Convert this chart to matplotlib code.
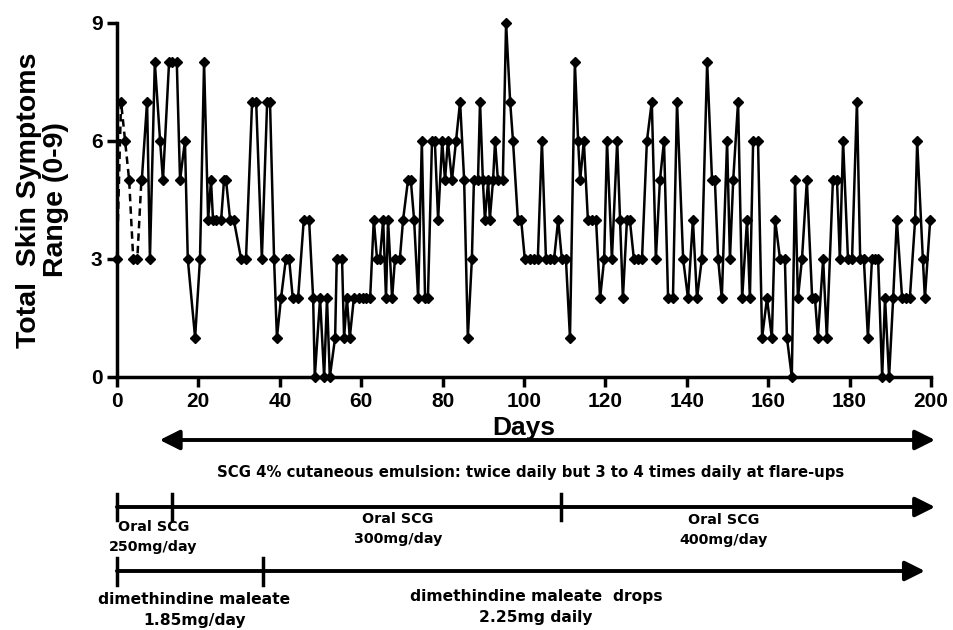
import numpy as np
import matplotlib
matplotlib.use("Agg")
import matplotlib.pyplot as plt
import matplotlib.transforms as mtransforms

plt.rcParams['font.family'] = ['Liberation Sans', 'DejaVu Sans']

# run-in period (dashed)
days_pre = [0, 1, 2, 3, 4, 5, 6]
score_pre = [3, 7, 6, 5, 3, 3, 5]

days = [6.1, 7.4, 8.1, 9.3, 10.6, 11.3, 12.8, 13.5, 14.7, 15.5, 16.7, 17.4, 19.2, 20.4,
        21.4, 22.4, 23.1, 23.6, 24.3, 25.6, 26.3, 26.8, 27.8, 28.7, 30.5, 31.7,
        33.2, 34.2, 35.6, 36.9, 37.6, 38.6, 39.3, 40.3, 41.5, 42.3, 43.2, 44.5, 45.9,
        47.2, 48.2, 48.6, 49.9, 50.9, 51.6, 52.3, 53.6, 54.0, 55.3, 55.8, 56.5, 57.2,
        58.2, 59.5, 60.4, 61.2, 62.2, 63.1, 63.9, 64.6, 65.4, 66.1, 66.6, 67.6, 68.3,
        69.5, 70.3, 71.5, 72.2, 73.0, 74.0, 74.9, 75.7, 76.4, 77.4, 78.1, 78.9, 79.9,
        80.6, 81.3, 82.3, 83.3, 84.3, 85.3, 86.2, 87.2, 87.7, 88.7, 89.2, 89.9, 90.4,
        91.2, 91.6, 92.4, 92.9, 93.6, 94.8, 95.6, 96.6, 97.3, 98.5, 99.3, 100.2, 101.5,
        102.5, 103.4, 104.4, 105.4, 106.4, 107.4, 108.4, 109.3, 110.3, 111.3, 112.5,
        113.3, 113.8, 114.7, 115.7, 116.7, 117.7, 118.7, 119.7, 120.4, 121.6, 122.9,
        123.6, 124.3, 125.3, 126.0, 127.0, 128.0, 129.0, 130.2, 131.4, 132.4, 133.4,
        134.4, 135.4, 136.6, 137.6, 139.1, 140.3, 141.5, 142.5, 143.7, 145.0, 146.2,
        146.9, 147.7, 148.6, 149.9, 150.6, 151.4, 152.6, 153.6, 154.8, 155.5, 156.3,
        157.5, 158.5, 159.7, 160.9, 161.7, 162.9, 164.1, 164.6, 165.8, 166.6, 167.3,
        168.3, 169.5, 170.8, 171.5, 172.2, 173.5, 174.4, 175.9, 176.9, 177.6, 178.4,
        179.6, 180.6, 181.8, 182.6, 183.5, 184.5, 185.5, 186.2, 187.0, 188.0, 188.7,
        189.7, 190.7, 191.6, 192.9, 193.9, 194.8, 196.1, 196.6, 198.0, 198.5, 199.8]
score = [5, 7, 3, 8, 6, 5, 8, 8, 8, 5, 6, 3, 1, 3,
         8, 4, 5, 4, 4, 4, 5, 5, 4, 4, 3, 3,
         7, 7, 3, 7, 7, 3, 1, 2, 3, 3, 2, 2, 4,
         4, 2, 0, 2, 0, 2, 0, 1, 3, 3, 1, 2, 1,
         2, 2, 2, 2, 2, 4, 3, 3, 4, 2, 4, 2, 3,
         3, 4, 5, 5, 4, 2, 6, 2, 2, 6, 6, 4, 6,
         5, 6, 5, 6, 7, 5, 1, 3, 5, 5, 7, 5, 4,
         5, 4, 5, 6, 5, 5, 9, 7, 6, 4, 4, 3, 3,
         3, 3, 6, 3, 3, 3, 4, 3, 3, 1, 8,
         6, 5, 6, 4, 4, 4, 2, 3, 6, 3, 6,
         4, 2, 4, 4, 3, 3, 3, 6, 7, 3, 5,
         6, 2, 2, 7, 3, 2, 4, 2, 3, 8, 5,
         5, 3, 2, 6, 3, 5, 7, 2, 4, 2, 6,
         6, 1, 2, 1, 4, 3, 3, 1, 0, 5, 2,
         3, 5, 2, 2, 1, 3, 1, 5, 5, 3, 6,
         3, 3, 7, 3, 3, 1, 3, 3, 3, 0, 2,
         0, 2, 4, 2, 2, 2, 4, 6, 3, 2, 4]

# treatment timeline (days)
emulsion_span = [10.5, 201]
emulsion_text = "SCG 4% cutaneous emulsion: twice daily but 3 to 4 times daily at flare-ups"
oral_changes = [0, 13.5, 109]
oral_labels = ["Oral SCG\n250mg/day", "Oral SCG\n300mg/day", "Oral SCG\n400mg/day"]
oral_label_days = [9, 69, 149]
dim_changes = [0, 36]
dim_labels = ["dimethindine maleate\n1.85mg/day", "dimethindine maleate  drops\n2.25mg daily"]
dim_label_days = [19, 103]

fig = plt.figure(figsize=(9.54, 6.3), dpi=100)
ax = fig.add_axes([0.1226, 0.4016, 0.8533, 0.5619])

ax.plot(days_pre, score_pre, color='black', lw=1.8, ls=(0, (3, 2)), marker='D',
        ms=5, clip_on=False, zorder=3)
ax.plot(days, score, color='black', lw=1.8, marker='D', ms=5, clip_on=False, zorder=4)

ax.set_xlim(0, 200)
ax.set_ylim(0, 9)
ax.set_xticks(np.arange(0, 201, 20))
ax.set_yticks([0, 3, 6, 9])
for s in ['top', 'right']:
    ax.spines[s].set_visible(False)
for s in ['left', 'bottom']:
    ax.spines[s].set_linewidth(2.5)
ax.tick_params(width=2.5, length=7, labelsize=15)
for lab in ax.get_xticklabels() + ax.get_yticklabels():
    lab.set_fontweight('bold')
ax.set_ylabel("Total  Skin Symptoms\nRange (0-9)", fontsize=20.5, fontweight='bold',
              labelpad=16, linespacing=1.05)
ax.set_xlabel("Days", fontsize=19, fontweight='bold', labelpad=4)

# timeline below the chart: x in days, y in figure fraction
tr = mtransforms.blended_transform_factory(ax.transData, fig.transFigure)

def fy(py):
    return 1 - py / 630

arrow = dict(lw=2.8, color='black', mutation_scale=30, shrinkA=0, shrinkB=0)
tfont = dict(family='DejaVu Sans', fontweight='bold')

ax.annotate('', xy=(emulsion_span[1], fy(440)), xytext=(emulsion_span[0], fy(440)),
            xycoords=tr, textcoords=tr, annotation_clip=False,
            arrowprops=dict(arrowstyle='<|-|>', **arrow))
ax.text(101.7, fy(472), emulsion_text, transform=tr, ha='center', va='center',
        fontsize=10.7, **tfont)

ax.annotate('', xy=(201, fy(507)), xytext=(oral_changes[0], fy(507)),
            xycoords=tr, textcoords=tr, annotation_clip=False,
            arrowprops=dict(arrowstyle='-|>', **arrow))
for d in oral_changes:
    ax.plot([d, d], [fy(494), fy(520)], transform=tr, color='black', lw=2.5, clip_on=False)
for d, t, py in zip(oral_label_days, oral_labels, [537, 529, 530]):
    ax.text(d, fy(py), t, transform=tr, ha='center', va='center', fontsize=10.3,
            linespacing=1.5, **tfont)

ax.annotate('', xy=(198.5, fy(571)), xytext=(dim_changes[0], fy(571)),
            xycoords=tr, textcoords=tr, annotation_clip=False,
            arrowprops=dict(arrowstyle='-|>', **arrow))
for d in dim_changes:
    ax.plot([d, d], [fy(558), fy(585)], transform=tr, color='black', lw=2.5, clip_on=False)
for d, t, py in zip(dim_label_days, dim_labels, [610, 607]):
    ax.text(d, fy(py), t, transform=tr, ha='center', va='center', fontsize=11.2,
            linespacing=1.45, **tfont)

fig.savefig("out.png", dpi=100)
